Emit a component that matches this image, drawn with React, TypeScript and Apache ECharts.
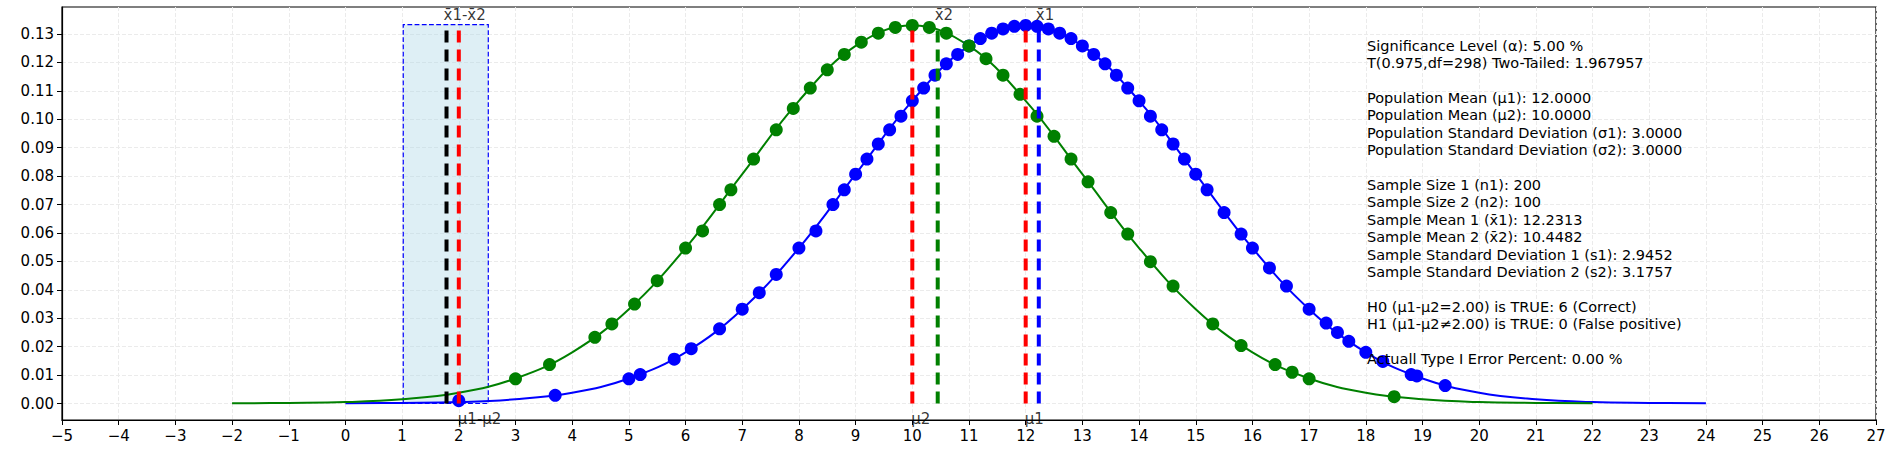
import { useEffect, useRef } from 'react';
import * as echarts from 'echarts';

// curve values at integer x (normal pdf, sigma 3)
const blueCurveX = [0, 1, 2, 3, 4, 5, 6, 7, 8, 9, 10, 11, 12, 13, 14, 15, 16, 17, 18, 19, 20, 21, 22, 23, 24];
const greenCurveX = [-2, -1, 0, 1, 2, 3, 4, 5, 6, 7, 8, 9, 10, 11, 12, 13, 14, 15, 16, 17, 18, 19, 20, 21, 22];
const curveY = [0.00005, 0.0002, 0.0005, 0.0015, 0.0038, 0.0088, 0.018, 0.0332, 0.0547, 0.0807, 0.1065, 0.1258, 0.133,
  0.1258, 0.1065, 0.0807, 0.0547, 0.0332, 0.018, 0.0088, 0.0038, 0.0015, 0.0005, 0.0002, 0.00005];

const blueDots: [number, number][] = [
  [2.0, 0.001], [3.7, 0.0029], [5.0, 0.0087], [5.2, 0.0102], [5.8, 0.0156], [6.1, 0.0193], [6.6, 0.0263],
  [7.0, 0.0332], [7.3, 0.039], [7.6, 0.0454], [8.0, 0.0547], [8.3, 0.0607], [8.6, 0.07], [8.8, 0.0752],
  [9.0, 0.0807], [9.2, 0.086], [9.4, 0.0913], [9.6, 0.0963], [9.8, 0.1011], [10.0, 0.1065], [10.2, 0.111],
  [10.4, 0.1155], [10.6, 0.1195], [10.8, 0.1228], [11.0, 0.1258], [11.2, 0.1284], [11.4, 0.1303],
  [11.6, 0.1318], [11.8, 0.1327], [12.0, 0.133], [12.2, 0.1327], [12.4, 0.1318], [12.6, 0.1303],
  [12.8, 0.1284], [13.0, 0.1258], [13.2, 0.1228], [13.4, 0.1195], [13.6, 0.1155], [13.8, 0.111],
  [14.0, 0.1065], [14.2, 0.1011], [14.4, 0.0963], [14.6, 0.0913], [14.8, 0.086], [15.0, 0.0807],
  [15.2, 0.0752], [15.5, 0.0672], [15.8, 0.0596], [16.0, 0.0547], [16.3, 0.0477], [16.6, 0.0413],
  [17.0, 0.0332], [17.3, 0.0283], [17.5, 0.025], [17.7, 0.0219], [18.0, 0.018], [18.3, 0.0148],
  [18.8, 0.0102], [18.9, 0.0097], [19.4, 0.0063],
];
const greenDots: [number, number][] = [
  [3.0, 0.0087], [3.6, 0.0137], [4.4, 0.0233], [4.7, 0.028], [5.1, 0.035], [5.5, 0.0432], [6.0, 0.0547],
  [6.3, 0.0607], [6.6, 0.07], [6.8, 0.0752], [7.2, 0.086], [7.6, 0.0963], [7.9, 0.1038], [8.2, 0.111],
  [8.5, 0.1174], [8.8, 0.1228], [9.1, 0.1271], [9.4, 0.1303], [9.7, 0.1323], [10.0, 0.133], [10.3, 0.1323],
  [10.6, 0.1303], [11.0, 0.1258], [11.3, 0.1213], [11.6, 0.1155], [11.9, 0.1088], [12.2, 0.1011],
  [12.5, 0.094], [12.8, 0.086], [13.1, 0.078], [13.5, 0.0672], [13.8, 0.0596], [14.2, 0.0499],
  [14.6, 0.0413], [15.3, 0.028], [15.8, 0.0204], [16.4, 0.0137], [16.7, 0.011], [17.0, 0.0087], [18.5, 0.0024],
];

// vertical markers: x, colour, label, label at top?
const vLines: { x: number; color: string; label: string; top: boolean }[] = [
  { x: 1.7831, color: '#000000', label: 'x̄1-x̄2', top: true },
  { x: 2.0, color: '#ff0000', label: 'μ1-μ2', top: false },
  { x: 10.0, color: '#ff0000', label: 'μ2', top: false },
  { x: 10.4482, color: '#008000', label: 'x̄2', top: true },
  { x: 12.0, color: '#ff0000', label: 'μ1', top: false },
  { x: 12.2313, color: '#0000ff', label: 'x̄1', top: true },
];
const lineTop = 0.1333;
const ciRange = [1.02, 2.52];

const yTicks = [0, 0.01, 0.02, 0.03, 0.04, 0.05, 0.06, 0.07, 0.08, 0.09, 0.1, 0.11, 0.12, 0.13];

const infoLines = [
  'Significance Level (α): 5.00 %',
  'T(0.975,df=298) Two-Tailed: 1.967957',
  '',
  'Population Mean (μ1): 12.0000',
  'Population Mean (μ2): 10.0000',
  'Population Standard Deviation (σ1): 3.0000',
  'Population Standard Deviation (σ2): 3.0000',
  '',
  'Sample Size 1 (n1): 200',
  'Sample Size 2 (n2): 100',
  'Sample Mean 1 (x̄1): 12.2313',
  'Sample Mean 2 (x̄2): 10.4482',
  'Sample Standard Deviation 1 (s1): 2.9452',
  'Sample Standard Deviation 2 (s2): 3.1757',
  '',
  'H0 (μ1-μ2=2.00) is TRUE: 6 (Correct)',
  'H1 (μ1-μ2≠2.00) is TRUE: 0 (False positive)',
  '',
  'Actuall Type I Error Percent: 0.00 %',
];

const font = 'DejaVu Sans, sans-serif';

export default function App() {
  const chartRef = useRef<HTMLDivElement>(null);

  useEffect(() => {
    if (!chartRef.current) return;
    const chart = echarts.init(chartRef.current, undefined, { renderer: 'svg' });

    const gridLine = { show: true, lineStyle: { color: '#ebebeb', type: 'dashed' as const } };

    const lineSeries: any[] = vLines.map((v) => ({
      type: 'line',
      data: [[v.x, 0], [v.x, lineTop]],
      symbol: 'none',
      lineStyle: { color: v.color, width: 4, type: [12, 7] },
      z: 4,
    }));

    const labelSeries = (top: boolean) => ({
      type: 'scatter',
      symbolSize: 1,
      itemStyle: { color: 'rgba(0,0,0,0)' },
      data: vLines.filter((v) => v.top === top).map((v) => ({
        value: [v.x, top ? lineTop : 0],
        label: { formatter: v.label },
      })),
      label: {
        show: true,
        position: top ? 'top' : 'bottom',
        align: 'left',
        offset: top ? [-3, 3] : [-1, 2],
        color: '#000',
        fontSize: 15,
        fontFamily: font,
      },
      z: 6,
    });

    const option: any = {
      animation: false,
      backgroundColor: '#fff',
      textStyle: { fontFamily: font },
      grid: { left: 62, right: 24, top: 7, bottom: 38, show: true, borderColor: '#000', borderWidth: 1.2 },
      xAxis: {
        type: 'value',
        min: -5,
        max: 27,
        interval: 1,
        axisLine: { onZero: false, lineStyle: { color: '#000', width: 1.2 } },
        axisTick: { show: true, length: 5, lineStyle: { color: '#000' } },
        axisLabel: {
          color: '#000', fontSize: 15, fontFamily: font, showMinLabel: true, showMaxLabel: true,
          formatter: (v: number) => String(v).replace('-', '−'),
        },
        splitLine: gridLine,
      },
      yAxis: {
        type: 'value',
        min: -0.0058,
        max: 0.1395,
        axisLine: { show: true, onZero: false, lineStyle: { color: '#000', width: 1.2 } },
        axisTick: { show: true, length: 5, lineStyle: { color: '#000' }, customValues: yTicks },
        axisLabel: { color: '#000', fontSize: 15, fontFamily: font, customValues: yTicks, formatter: (v: number) => v.toFixed(2) },
        splitLine: gridLine,
      },
      graphic: [
        {
          type: 'text',
          left: 1367,
          top: 37,
          style: {
            text: infoLines.join('\n'),
            font: `14.5px ${font}`,
            lineHeight: 17.4,
            fill: '#000',
          },
          z: 10,
        },
      ],
      series: [
        {
          type: 'line',
          data: [],
          markArea: {
            silent: true,
            itemStyle: { color: 'rgba(173,216,230,0.4)', borderColor: '#0000ff', borderWidth: 1.2, borderType: 'dashed' },
            data: [[{ coord: [ciRange[0], 0] }, { coord: [ciRange[1], lineTop] }]],
          },
        },
        {
          type: 'line',
          data: blueCurveX.map((x, i) => [x, curveY[i]]),
          smooth: 0.4,
          symbol: 'none',
          lineStyle: { color: '#0000ff', width: 2 },
          z: 2,
        },
        {
          type: 'line',
          data: greenCurveX.map((x, i) => [x, curveY[i]]),
          smooth: 0.4,
          symbol: 'none',
          lineStyle: { color: '#008000', width: 2 },
          z: 2,
        },
        { type: 'scatter', data: blueDots, symbolSize: 13, itemStyle: { color: '#0000ff', opacity: 1 }, z: 3 },
        { type: 'scatter', data: greenDots, symbolSize: 13, itemStyle: { color: '#008000', opacity: 1 }, z: 3 },
        ...lineSeries,
        labelSeries(true),
        labelSeries(false),
      ],
    };

    chart.setOption(option);
    return () => chart.dispose();
  }, []);

  return <div ref={chartRef} style={{ position: 'fixed', left: 0, top: 0, width: 1900, height: 458 }} />;
}
